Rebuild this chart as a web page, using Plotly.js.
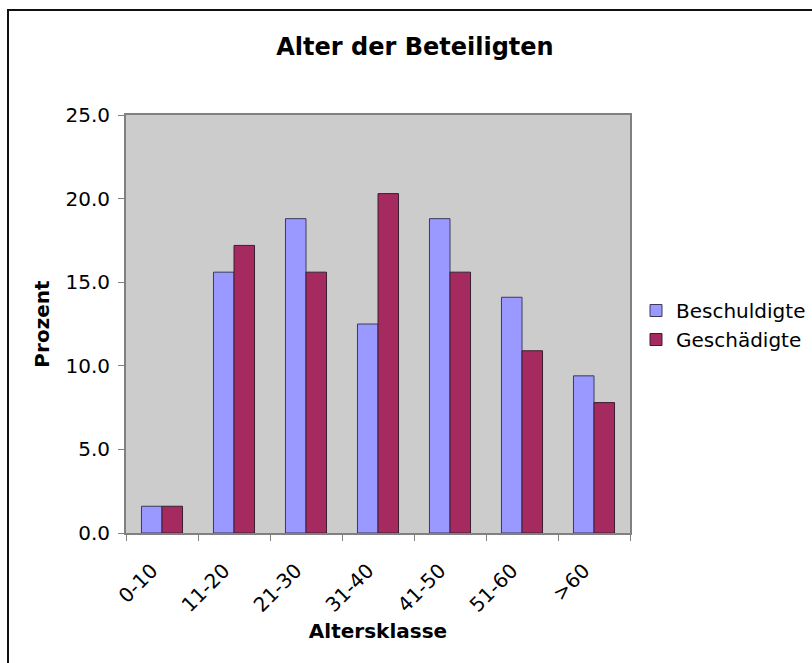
<!DOCTYPE html>
<html>
<head>
<meta charset="utf-8">
<script src="https://cdn.plot.ly/plotly-3.0.1.min.js"></script>
<style>html,body{margin:0;padding:0;background:#fff;}#chart{width:812px;height:663px;}</style>
</head>
<body>
<div id="chart"></div>
<script>
const categories = ["0-10", "11-20", "21-30", "31-40", "41-50", "51-60", ">60"];
const beschuldigte = [1.6, 15.6, 18.8, 12.5, 18.8, 14.1, 9.4];
const geschaedigte = [1.6, 17.2, 15.6, 20.3, 15.6, 10.9, 7.8];
const yTicks = [0, 5, 10, 15, 20, 25];

const font = "DejaVu Sans, Verdana, sans-serif";

const traces = [
  {type: "bar", name: "Beschuldigte", x: categories, y: beschuldigte, legendgroup: "a",
   marker: {color: "#9999ff", line: {color: "#3a3a5a", width: 1}}, hoverinfo: "x+y"},
  {type: "bar", name: "Geschädigte", x: categories, y: geschaedigte, legendgroup: "b",
   marker: {color: "#a52a60", line: {color: "#3a2030", width: 1}}, hoverinfo: "x+y"}
];

const L = 126, R = 630, T = 115, B = 533, W = 812, H = 663;
const pw = R - L, ph = B - T;
const px = v => (v - L) / pw;
const py = v => (B - v) / ph;

const layout = {
  width: W, height: H,
  margin: {l: L, r: W - R, t: T, b: H - B, pad: 0, autoexpand: false},
  paper_bgcolor: "#ffffff",
  plot_bgcolor: "#cccccc",
  font: {family: font, color: "#000", size: 20},
  title: {text: "<b>Alter der Beteiligten</b>", font: {family: font, size: 24, color: "#000"},
          x: 415 / W, xref: "container", xanchor: "center", y: 1 - 47 / H, yref: "container", yanchor: "middle"},
  barmode: "group",
  bargap: 0.43,
  bargroupgap: 0,
  showlegend: true,
  legend: {x: 636 / W, xref: "container", xanchor: "left", y: py(325), yanchor: "middle", bgcolor: "rgba(0,0,0,0)",
           font: {family: font, size: 20, color: "#000"}, tracegroupgap: 8, traceorder: "normal"},
  xaxis: {
    type: "category", tickangle: -45, tickson: "boundaries", ticks: "outside", ticklen: 6,
    tickcolor: "#808080", tickwidth: 1, ticklabelstandoff: 16, ticklabelshift: -10, automargin: false,
    showline: true, linecolor: "#808080", linewidth: 2, mirror: true, showgrid: false, zeroline: false,
    tickfont: {family: font, size: 20, color: "#000"},
    title: {text: "<b>Altersklasse</b>", font: {family: font, size: 20, color: "#000"}, standoff: 8}
  },
  yaxis: {
    range: [0, 25], tickvals: yTicks, ticktext: yTicks.map(v => v.toFixed(1)), automargin: false,
    ticks: "outside", ticklen: 6, tickcolor: "#808080", tickwidth: 1, ticklabelstandoff: 4,
    showline: true, linecolor: "#808080", linewidth: 2, mirror: true, showgrid: false, zeroline: false,
    tickfont: {family: font, size: 20, color: "#000"},
    title: {text: "<b>Prozent</b>", font: {family: font, size: 20, color: "#000"}, standoff: 10}
  },
  shapes: [
    {type: "rect", xref: "paper", yref: "paper", x0: px(8), x1: px(830), y0: py(700), y1: py(10),
     line: {color: "#111", width: 2}, fillcolor: "rgba(0,0,0,0)", layer: "above"}
  ]
};

Plotly.newPlot("chart", traces, layout, {displayModeBar: false, staticPlot: true});
</script>
</body>
</html>
